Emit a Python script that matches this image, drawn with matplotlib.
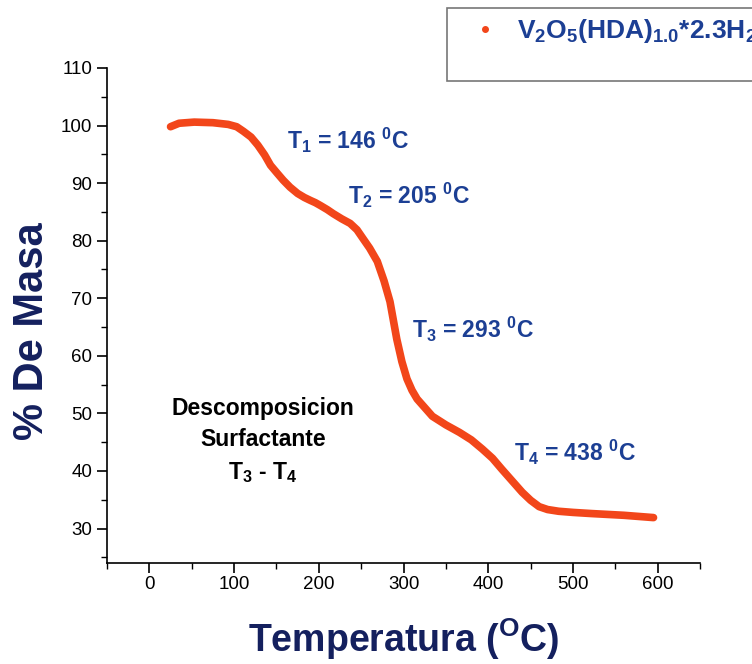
import numpy as np
import matplotlib.pyplot as plt
from matplotlib.lines import Line2D

plt.rcParams['font.family'] = ['Liberation Sans', 'DejaVu Sans']
plt.rcParams['mathtext.default'] = 'regular'

# curva TGA leida punto a punto
temperatura = [25, 35, 53, 75, 93, 103, 111, 120, 128, 136, 143, 151, 158, 166,
               175, 183, 190, 196, 202, 210, 217, 227, 237, 245, 252, 260, 269,
               277, 284, 292, 298, 304, 310, 316, 325, 334, 350, 366, 380, 393,
               405, 416, 428, 440, 450, 460, 470, 483, 500, 522, 560, 595]
masa = [99.8, 100.4, 100.6, 100.5, 100.2, 99.8, 99.0, 98.0, 96.6, 94.9, 93.1,
        91.7, 90.5, 89.3, 88.2, 87.5, 87.0, 86.6, 86.1, 85.4, 84.7, 83.8, 83.0,
        81.9, 80.4, 78.7, 76.4, 73.0, 69.4, 62.9, 59.0, 56.0, 54.0, 52.5, 51.0,
        49.5, 48.0, 46.7, 45.4, 43.8, 42.2, 40.3, 38.3, 36.3, 34.9, 33.8, 33.3,
        33.0, 32.8, 32.6, 32.3, 31.9]

etiquetas_t = ['T$_1$ = 146 $^0$C', 'T$_2$ = 205 $^0$C',
               'T$_3$ = 293 $^0$C', 'T$_4$ = 438 $^0$C']
pos_t = [(162, 97.4), (235, 87.8), (310, 64.6), (430, 43.2)]

azul = '#1c3f94'
naranja = '#f2461a'

fig = plt.figure(figsize=(7.52, 6.64), dpi=100)
ax = fig.add_axes([0.1423, 0.152, 0.7887, 0.7456])

ax.plot(temperatura, masa, color=naranja, lw=5.5, solid_capstyle='round',
        solid_joinstyle='round')

ax.set_xlim(-48, 648)
ax.set_ylim(24, 110)
ax.set_xticks(range(0, 601, 100))
ax.set_xticks(range(-50, 651, 50), minor=True)
ax.set_yticks(range(30, 111, 10))
ax.set_yticks(range(25, 111, 5), minor=True)

for s in ['top', 'right']:
    ax.spines[s].set_visible(False)
for s in ['left', 'bottom']:
    ax.spines[s].set_linewidth(1.2)
ax.tick_params(which='major', length=7, width=1.2, labelsize=13.5, direction='out')
ax.tick_params(which='minor', length=4, width=1.0, direction='out')
ax.tick_params(axis='x', pad=2)

ax.set_xlabel('Temperatura ($^O$C)', fontsize=27, fontweight='bold', color='#14205e')
ax.xaxis.set_label_coords(0.5, -0.108)
ax.set_ylabel('% De Masa', fontsize=30, fontweight='bold', color='#14205e')
ax.yaxis.set_label_coords(-0.093, 0.468)

for txt, (x, y) in zip(etiquetas_t, pos_t):
    ax.text(x, y, txt, fontsize=16.5, fontweight='bold', color=azul, va='center', ha='left')

ax.text(134, 45.2, 'Descomposicion\nSurfactante\nT$_3$ - T$_4$', fontsize=16.5,
        fontweight='bold', color='black', ha='center', va='center', linespacing=1.45)

h1 = Line2D([], [], color=naranja, marker='o', ls='none', markersize=4)
h2 = Line2D([], [], ls='none')
leg = fig.legend([h1, h2], ['V$_2$O$_5$(HDA)$_{1.0}$*2.3H$_2$O', ' '],
                 loc='upper left', bbox_to_anchor=(447 / 752, 1 - 8 / 664),
                 fontsize=19, frameon=True, fancybox=False, edgecolor='#555555',
                 borderpad=0.35, borderaxespad=0, handletextpad=0.1,
                 labelspacing=0.1, handlelength=2.2)
leg.get_frame().set_linewidth(1.2)
for t in leg.get_texts():
    t.set_color(azul)
    t.set_fontweight('bold')

fig.savefig('out.png', dpi=100)
